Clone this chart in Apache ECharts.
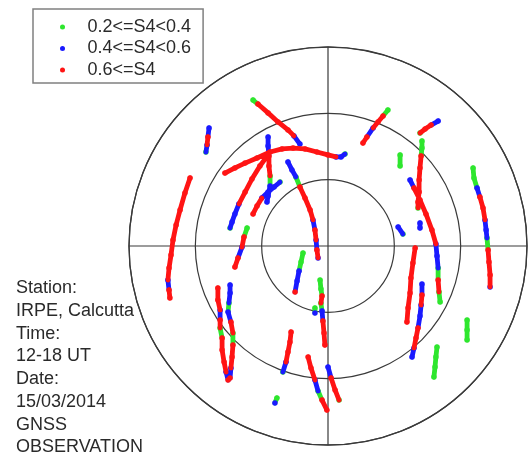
<!DOCTYPE html>
<html>
<head>
<meta charset="utf-8">
<title>S4 skyplot</title>
<script src="https://cdn.jsdelivr.net/npm/echarts@6/dist/echarts.min.js"></script>
<style>
  html, body { margin: 0; padding: 0; background: #fff; }
  #main { width: 528px; height: 457px; }
</style>
</head>
<body>
<div id="main"></div>
<script>
// S4 classes and colours
var categories = ['0.2<=S4<0.4', '0.4<=S4<0.6', '0.6<=S4'];
var catColors = ['#2ee62e', '#1a1aff', '#ff1414'];
var G = 0, B = 1, R = 2;

// zenith rings (deg) and azimuth spokes
var zenithMax = 90, zenithStep = 30;
var azimuthStep = 90;

// satellite tracks, points are [east, north, class] in zenith degrees
var trackA = [[-33.9,66.0,G],[-31.7,64.2,R],[-27.1,60.2,R],[-22.6,56.1,R],[-18.1,52.5,R],[-15.4,49.8,B],[-12.7,46.1,B]];
var trackB = [[-53.8,53.4,B],[-54.3,49.3,R],[-54.7,45.7,B],[-55.2,42.5,G]];
var trackC = [[-62.4,30.8,R],[-64.7,24.0,R],[-66.9,16.3,R],[-68.7,9.5,R],[-70.1,2.7,R],[-71.0,-4.1,R],[-71.9,-10.0,R],[-72.4,-15.4,B],[-71.9,-19.9,R],[-71.5,-23.5,R]];
var trackD = [[-46.6,33.0,R],[-42.1,35.3,R],[-37.5,37.5,R],[-32.1,39.8,R],[-26.2,42.5,R],[-20.8,43.9,R],[-15.8,44.3,R],[-10.4,43.9,R],[-5.0,42.5,R],[0,41.2,R],[3.6,40.3,B],[5.9,40.3,B],[7.7,41.6,G]];
var trackE = [[-27.1,49.3,B],[-27.1,45.2,B],[-26.7,40.7,R],[-26.7,36.2,R],[-26.2,31.7,G],[-26.2,27.1,B],[-27.1,22.6,B],[-27.6,19.9,B]];
var trackF = [[-27.1,41.2,R],[-30.8,36.2,R],[-34.4,30.3,R],[-37.5,24.4,R],[-40.3,19.0,B],[-42.1,14.5,B],[-43.4,10.9,B],[-44.3,8.1,G]];
var trackF2 = [[-33.9,14.5,R],[-32.1,18.1,R],[-29.9,21.7,B],[-27.1,24.4,B],[-24.4,26.7,B],[-21.7,28.9,G]];
var trackG = [[-18.1,38.0,B],[-16.3,34.4,B],[-14.5,31.2,G],[-12.7,26.7,R],[-10.4,21.7,R],[-8.1,16.3,R],[-6.8,11.8,B],[-5.9,7.2,R],[-5.4,2.7,B],[-5.0,-1.8,R],[-4.5,-5.4,B]];
var trackH = [[-36.6,8.1,G],[-38.0,4.1,R],[-38.9,-0.5,B],[-40.7,-5.4,R],[-42.1,-9.5,R]];
var trackI = [[-11.3,-3.2,G],[-12.2,-7.2,G],[-13.1,-11.3,B],[-14.0,-15.8,B],[-14.9,-20.8,R]];
var trackK = [[-3.6,-15.4,G],[-3.2,-19.4,G],[-2.7,-22.6,R],[-3.2,-25.8,G],[-2.7,-29.4,B],[-2.3,-33.9,R],[-1.8,-39.4,R],[-1.4,-44.8,R]];
var trackK3 = [[-5.9,-28.0,G],[-5.9,-30.3,B]];
var trackM = [[-9.0,-50.2,R],[-7.7,-55.2,R],[-5.9,-60.6,B],[-4.5,-65.6,G],[-2.7,-69.7,R],[-0.5,-74.2,R]];
var trackN = [[0,-54.7,B],[1.4,-59.7,R],[3.2,-65.1,R],[5.0,-69.7,G]];
var trackO = [[-16.7,-38.9,R],[-17.2,-43.4,R],[-18.1,-47.9,R],[-19.0,-52.5,B],[-20.4,-57.0,G]];
var trackQ = [[-23.1,-68.7,G],[-24.0,-71.0,B]];
var trackP1 = [[-49.8,-19.0,R],[-49.8,-24.4,R],[-48.8,-28.9,B],[-48.8,-33.5,R],[-48.8,-37.1,G],[-47.9,-41.6,R],[-47.9,-47.0,R],[-47.0,-52.5,R],[-46.1,-57.0,B],[-45.2,-60.6,R]];
var trackP2 = [[-44.3,-17.6,B],[-44.3,-21.3,B],[-44.8,-25.8,G],[-45.2,-29.9,B],[-43.9,-34.4,R],[-43.0,-39.4,G],[-43.0,-44.8,R],[-43.4,-50.2,R],[-43.9,-55.2,B],[-44.3,-59.7,R]];
var trackJ = [[27.1,61.5,G],[24.9,58.8,R],[22.6,56.1,R],[20.4,53.4,B],[17.6,49.3,R],[15.8,46.6,R]];
var trackK2 = [[49.8,56.5,B],[46.6,54.7,R],[43.9,52.9,R],[41.6,51.1,G]];
var trackL1 = [[42.5,47.5,G],[42.5,44.3,G],[42.1,40.7,R],[41.6,35.3,R],[41.2,29.9,R],[41.2,24.4,R],[40.7,19.9,R],[40.7,17.2,G]];
var trackL2 = [[37.1,29.9,B],[38.9,26.2,R],[41.6,20.8,R],[44.3,14.5,R],[47.0,7.2,R],[48.8,0.9,B],[49.3,-4.5,B],[49.8,-10.0,G],[49.8,-15.4,R],[50.2,-20.8,G],[50.7,-25.3,G]];
var trackW1 = [[32.6,41.2,G],[32.6,36.2,G]];
var trackW2 = [[31.7,8.6,B],[33.9,5.4,G]];
var trackW3 = [[41.6,10.4,B],[41.6,8.1,B]];
var trackS = [[39.4,-0.9,R],[38.4,-7.7,R],[37.5,-14.5,R],[37.1,-21.3,R],[36.2,-28.0,R],[35.7,-34.4,R]];
var trackT = [[42.5,-17.2,B],[42.5,-22.2,R],[42.1,-26.7,B],[41.6,-31.7,B],[40.7,-37.1,R],[39.8,-41.6,R],[38.9,-46.1,B],[38.0,-50.2,B]];
var trackU = [[49.3,-45.7,G],[48.8,-50.2,G],[48.4,-54.7,G],[47.9,-59.3,G]];
var trackV = [[62.9,-33.5,G],[62.9,-38.0,G],[62.9,-42.5,G]];
var trackRt = [[65.6,35.3,G],[66.0,30.8,G],[67.4,26.2,B],[68.7,22.2,R],[70.1,17.2,R],[71.0,11.8,B],[71.5,7.2,B],[71.9,3.6,G],[72.4,-1.8,R],[72.8,-7.2,R],[73.3,-13.1,R],[73.3,-18.5,B]];

var tracks = [trackA, trackB, trackC, trackD, trackE, trackF, trackF2, trackG, trackH, trackI,
  trackK, trackK3, trackM, trackN, trackO, trackQ, trackP1, trackP2, trackJ, trackK2,
  trackL1, trackL2, trackW1, trackW2, trackW3, trackS, trackT, trackU, trackV, trackRt];

var infoLines = ['Station:', 'IRPE, Calcutta', 'Time:', '12-18 UT', 'Date:', '15/03/2014', 'GNSS', 'OBSERVATION'];

function toPolar(p) {
  var r = Math.sqrt(p[0] * p[0] + p[1] * p[1]);
  var az = (Math.atan2(p[0], p[1]) * 180 / Math.PI + 360) % 360;
  return [r, az];
}

// one polyline per colour run, the run is carried on to the next point of the track
function runsFor(cat) {
  var out = [];
  tracks.forEach(function (trk) {
    var i = 0;
    while (i < trk.length) {
      if (trk[i][2] !== cat) { i++; continue; }
      var j = i;
      while (j + 1 < trk.length && trk[j + 1][2] === cat) j++;
      for (var k = i; k <= j; k++) out.push(toPolar(trk[k]));
      if (j + 1 < trk.length) out.push({ value: toPolar(trk[j + 1]), symbol: 'none' });
      out.push('-');
      i = j + 1;
    }
  });
  return out;
}

var chart = echarts.init(document.getElementById('main'), null, { renderer: 'canvas' });

var series = categories.map(function (name, c) {
  return {
    name: name,
    type: 'line',
    coordinateSystem: 'polar',
    data: runsFor(c),
    connectNulls: false,
    symbol: 'circle',
    symbolSize: 5.5,
    showSymbol: true,
    color: catColors[c],
    itemStyle: { color: catColors[c] },
    lineStyle: { color: catColors[c], width: 4.8, cap: 'round', join: 'round' },
    emphasis: { disabled: true },
    silent: true,
    z: 3 + c
  };
});

chart.setOption({
  animation: false,
  backgroundColor: '#fff',
  textStyle: { fontFamily: 'Liberation Sans, Arial, sans-serif' },
  title: {
    text: infoLines.join('\n'),
    left: 16,
    top: 277,
    padding: 0,
    textStyle: { fontSize: 18, lineHeight: 22.7, fontWeight: 'normal', color: '#2a2a2a' }
  },
  legend: {
    data: categories.map(function (n) { return { name: n, icon: 'circle' }; }),
    orient: 'vertical',
    left: 33,
    top: 9,
    padding: [9, 12, 4, 27],
    itemWidth: 40,
    itemHeight: 5,
    itemGap: 3.5,
    borderColor: '#808080',
    borderWidth: 1.5,
    borderRadius: 0,
    backgroundColor: '#fff',
    selectedMode: false,
    textStyle: { fontSize: 18, lineHeight: 18, color: '#2a2a2a' },
    z: 10
  },
  polar: { center: [328, 246], radius: 199 },
  angleAxis: {
    type: 'value',
    min: 0,
    max: 360,
    interval: azimuthStep,
    startAngle: 90,
    clockwise: true,
    axisLine: { lineStyle: { color: '#3a3a3a', width: 1.3 } },
    axisTick: { show: false },
    axisLabel: { show: false },
    splitLine: { show: true, lineStyle: { color: '#3a3a3a', width: 1.2 } }
  },
  radiusAxis: {
    type: 'value',
    min: 0,
    max: zenithMax,
    interval: zenithStep,
    axisLine: { show: false },
    axisTick: { show: false },
    axisLabel: { show: false },
    splitLine: { show: true, lineStyle: { color: '#3a3a3a', width: 1.2 } }
  },
  series: series
});
</script>
</body>
</html>
